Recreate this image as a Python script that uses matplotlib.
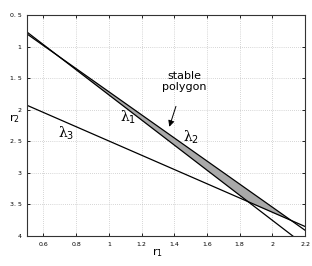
import numpy as np
import matplotlib
matplotlib.use("Agg")
import matplotlib.pyplot as plt

# boundary lines r2 = f(r1), given by their end points
r1_ends = [0.5, 2.2]
lam1_r2 = [0.77, 4.15]
lam2_r2 = [0.80, 3.91]
lam3_r2 = [1.93, 3.85]

xticks = [0.6, 0.8, 1, 1.2, 1.4, 1.6, 1.8, 2, 2.2]
xticklabels = ["0.6", "0.8", "1", "1.2", "1.4", "1.6", "1.8", "2", "2.2"]
yticks = [0.5, 1, 1.5, 2, 2.5, 3, 3.5, 4]
yticklabels = ["0. 5", "1", "1. 5", "2", "2. 5", "3", "3. 5", "4"]

fig = plt.figure(figsize=(3.12, 2.66), dpi=100)
ax = fig.add_axes([0.0865, 0.1128, 0.8915, 0.8308])

# stable polygon: below lambda2, above lambda1 and lambda3
r1 = np.linspace(r1_ends[0], r1_ends[1], 2000)
l1 = np.interp(r1, r1_ends, lam1_r2)
l2 = np.interp(r1, r1_ends, lam2_r2)
l3 = np.interp(r1, r1_ends, lam3_r2)
low = np.minimum(l1, l3)
ax.fill_between(r1, l2, low, where=l2 < low, color="#a9a9a9", lw=0)

for ys in (lam1_r2, lam2_r2, lam3_r2):
    ax.plot(r1_ends, ys, color="black", lw=0.9)

ax.set_xlim(0.5, 2.2)
ax.set_ylim(4, 0.5)
ax.set_xticks(xticks)
ax.set_xticklabels(xticklabels)
ax.set_yticks(yticks)
ax.set_yticklabels(yticklabels)
ax.tick_params(direction="in", length=2.5, width=0.6, labelsize=4.5,
               top=True, right=True, pad=4)
ax.grid(True, ls=(0, (1, 2)), color="#b0b0b0", lw=0.5)
for s in ax.spines.values():
    s.set_linewidth(0.8)
    s.set_color("#333333")

lam_font = dict(fontsize=10, ha="center", va="center", family="DejaVu Serif")
ax.text(1.12, 2.12, "λ$_1$", **lam_font)
ax.text(1.5, 2.43, "λ$_2$", **lam_font)
ax.text(0.74, 2.37, "λ$_3$", **lam_font)
ax.annotate("stable\npolygon", xy=(1.37, 2.27), xytext=(1.46, 1.55),
            ha="center", va="center", fontsize=8, linespacing=1.1,
            arrowprops=dict(arrowstyle="-|>", color="black", lw=0.7,
                            mutation_scale=9, shrinkA=9, shrinkB=0))

fig.text(0.506, 0.05, r"$\mathrm{r}_1$", fontsize=8, ha="center", va="center")
fig.text(0.045, 0.555, r"$\mathrm{r}_2$", fontsize=8, ha="center", va="center")

fig.savefig("out.png", dpi=100)
